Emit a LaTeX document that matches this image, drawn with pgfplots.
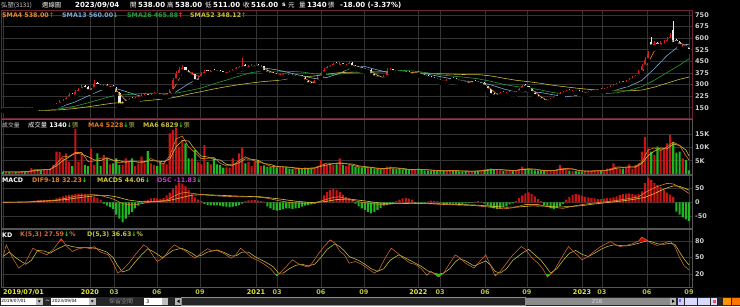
\documentclass[border=0pt]{standalone}
\usepackage{fontspec}
\setmainfont{DejaVu Sans}
\newfontfamily\cjk{Noto Sans CJK TC}
\usepackage{pgfplots}
\pgfplotsset{compat=1.18}
\usepackage{pgfplotstable}

\definecolor{gridc}{RGB}{52,52,52}
\definecolor{framec}{RGB}{85,85,85}
\definecolor{pricefr}{RGB}{110,35,55}
\definecolor{labc}{RGB}{205,205,205}
\definecolor{cup}{RGB}{215,30,30}
\definecolor{cdn}{RGB}{235,235,235}
\definecolor{vup}{RGB}{200,20,20}
\definecolor{vdn}{RGB}{30,185,30}
\definecolor{smaA}{RGB}{230,140,50}
\definecolor{smaB}{RGB}{120,170,210}
\definecolor{smaC}{RGB}{40,155,60}
\definecolor{smaD}{RGB}{200,190,50}
\definecolor{maor}{RGB}{230,120,30}
\definecolor{mayl}{RGB}{200,190,60}
\definecolor{difc}{RGB}{225,130,40}
\definecolor{macdsc}{RGB}{210,200,60}
\definecolor{oscc}{RGB}{200,60,200}
\definecolor{kc}{RGB}{215,105,50}
\definecolor{dc}{RGB}{200,195,60}
\definecolor{arrup}{RGB}{255,50,50}
\definecolor{arrdn}{RGB}{40,230,40}
\definecolor{yrc}{RGB}{230,230,70}
\definecolor{monc}{RGB}{190,190,70}
\definecolor{stripc}{RGB}{38,38,38}

\newcommand{\up}{{\color{arrup}↑}}
\newcommand{\dn}{{\color{arrdn}↓}}

\pgfplotsset{
 panel/.style={
  scale only axis, width=690.5pt, anchor=south west,
  xmin=-0.48, xmax=218.95,
  xtick={0,27.6,35.3,48.9,62.6,80.4,87.1,101,114.7,132,138.9,153.2,166.5,184,190.3,204.6,218},
  xticklabels={},
  xmajorgrids, ymajorgrids,
  major grid style={draw=gridc, line width=0.5pt},
  major tick length=0pt,
  axis line style={draw=framec, line width=0.7pt},
  yticklabel pos=right,
  yticklabel style={font=\fontsize{6.5}{7}\selectfont\bfseries, text=labc, anchor=west, inner sep=0pt, xshift=3pt},
 },
 upsel/.style={restrict expr to domain={\thisrow{c}-\thisrow{o}}{0.001:10000}},
 dnsel/.style={restrict expr to domain={\thisrow{c}-\thisrow{o}}{-10000:-0.001}},
 wick/.style={only marks, mark=none, error bars/.cd, y dir=plus, y explicit, error mark=none, error bar style={draw=#1, line width=0.6pt}},
 body/.style={only marks, mark=none, error bars/.cd, y dir=plus, y explicit, error mark=none, error bar style={draw=#1, line width=2.2pt}},
}

\pgfplotstableread{
x o h l c v osc
0 136 138 130 132 0.9 0
1 132 137 131 135 0.8 -1
2 136 138 132 134 0.7 0
3 133 139 132 136 0.8 1
4 137 138 131 133 0.7 0
5 132 137 131 135 0.8 -1
6 134 140 133 137 0.9 0
7 139 141 134 136 0.7 1
8 135 141 134 138 1.0 1
9 136 147 135 142 2.2 4
10 140 152 139 148 1.8 6
11 146 157 144 152 1.6 8
12 156 159 147 150 1.4 8
13 149 160 147 155 1.7 7
14 152 162 150 157 1.8 8
15 154 166 152 160 2.0 9
16 157 172 155 165 3.4 10
17 160 182 158 172 8.4 14
18 168 198 165 185 8.2 18
19 180 208 176 195 6.0 22
20 192 218 188 210 7.8 25
21 208 242 204 230 4.6 27
22 240 246 218 225 3.0 28
23 222 264 218 250 17.0 30
24 245 275 238 265 4.6 32
25 262 300 256 285 7.8 33
26 292 298 262 270 3.4 30
27 282 288 246 255 3.0 28
28 250 280 245 270 9.6 25
29 268 330 262 300 3.4 20
30 308 315 282 290 7.8 15
31 298 304 278 285 3.0 10
32 278 300 272 290 7.1 -5
33 298 302 272 280 5.9 -12
34 270 292 266 285 3.6 -18
35 290 294 266 275 4.0 -25
36 280 286 232 240 5.9 -45
37 245 252 150 165 3.4 -60
38 160 195 148 185 3.4 -73
39 180 205 175 195 5.9 -60
40 190 214 186 205 4.6 -45
41 212 218 194 200 5.9 -35
42 196 218 192 210 3.0 -22
43 204 224 200 215 4.0 -12
44 210 236 206 225 6.5 -4
45 218 240 214 230 4.0 6
46 236 240 212 220 8.6 10
47 218 244 214 235 4.0 14
48 228 250 224 240 3.4 15
49 244 248 224 230 3.0 14
50 236 240 218 225 4.6 12
51 218 236 214 228 4.0 15
52 222 242 218 235 3.6 25
53 232 270 228 260 15.3 35
54 258 345 254 330 16.5 48
55 325 390 318 370 17.4 62
56 362 410 355 395 10.3 72
57 385 428 378 405 12.8 68
58 410 416 370 380 11.5 58
59 390 396 355 365 5.9 45
60 350 382 345 370 5.9 30
61 365 370 305 320 9.0 18
62 315 356 310 345 4.6 10
63 340 380 335 370 3.6 4
64 360 392 355 378 10.9 -6
65 392 396 366 375 4.6 -9
66 368 395 362 385 3.6 -10
67 396 400 372 380 5.9 -11
68 392 396 370 378 3.6 -10
69 388 392 365 372 3.4 -12
70 384 388 360 368 2.4 -15
71 360 382 356 375 2.5 -16
72 366 390 362 380 2.4 -18
73 376 402 372 395 5.9 -16
74 388 412 384 405 4.0 -14
75 396 420 392 410 7.8 -10
76 402 470 398 420 9.9 -5
77 428 434 398 405 4.0 4
78 398 424 394 415 4.6 7
79 406 430 402 420 3.0 9
80 404 428 400 418 4.6 8
81 425 430 404 410 5.2 6
82 400 424 396 415 3.0 4
83 418 422 360 380 3.2 2
84 388 392 362 370 2.8 -15
85 380 385 358 365 2.6 -22
86 376 380 352 360 3.0 -28
87 370 374 348 355 2.5 -30
88 346 368 342 360 2.6 -28
89 350 374 346 365 2.8 -25
90 372 376 352 358 2.5 -22
91 366 370 345 352 2.0 -22
92 362 366 342 350 1.8 -24
93 342 364 338 355 2.0 -22
94 360 364 338 345 2.2 -20
95 354 358 332 340 2.0 -16
96 345 350 312 320 2.4 -12
97 325 330 282 300 2.2 -10
98 310 314 286 295 2.0 -8
99 296 328 292 320 2.5 -6
100 318 352 314 345 3.0 -2
101 344 382 340 375 5.3 5
102 370 404 366 395 4.0 25
103 390 418 386 410 3.6 38
104 402 428 398 420 3.8 45
105 412 440 408 430 3.4 49
106 440 445 418 425 3.6 45
107 414 442 410 430 5.9 38
108 436 440 412 420 3.4 28
109 410 432 406 425 3.0 20
110 420 452 416 440 3.4 14
111 440 444 404 410 3.2 8
112 420 425 398 405 2.8 -5
113 415 420 393 400 2.6 -15
114 410 414 388 395 2.5 -22
115 404 408 383 390 2.4 -28
116 382 402 378 395 2.4 -35
117 395 400 352 360 2.2 -40
118 365 370 338 345 2.0 -35
119 356 360 332 340 1.8 -28
120 350 354 326 335 1.8 -20
121 332 358 328 350 2.0 -12
122 348 405 344 390 2.8 -10
123 380 404 376 395 2.8 -8
124 398 402 372 380 2.0 -5
125 392 396 370 378 1.8 4
126 388 392 368 375 1.8 10
127 386 390 364 372 1.6 14
128 384 388 362 370 1.6 15
129 380 384 360 368 1.5 13
130 358 380 354 372 1.6 10
131 362 386 358 378 1.8 -5
132 384 388 358 365 2.0 -7
133 370 374 348 355 1.5 -6
134 362 366 340 348 1.4 -4
135 355 358 332 340 1.3 3
136 348 352 328 335 1.2 6
137 344 348 322 330 1.2 5
138 338 342 318 325 1.1 3
139 332 336 310 318 1.2 -3
140 328 332 306 315 1.1 -6
141 310 334 306 325 1.4 -8
142 320 344 316 335 1.5 -7
143 344 348 324 330 1.2 -5
144 336 340 314 322 1.1 -6
145 328 332 308 315 1.0 -8
146 324 328 304 312 1.0 -6
147 318 322 296 305 1.1 -4
148 296 316 292 308 1.0 -3
149 300 320 296 312 1.1 -2
150 322 326 302 310 1.2 2
151 318 322 296 305 1.3 4
152 296 316 292 308 1.4 2
153 310 314 278 285 1.6 -5
154 288 292 255 262 1.8 -12
155 265 270 220 230 2.0 -18
156 238 242 214 222 1.6 -22
157 220 244 216 235 1.5 -25
158 228 250 224 242 1.4 -22
159 252 256 234 240 1.2 -18
160 232 254 228 245 1.3 -14
161 236 256 232 248 1.4 -8
162 256 260 236 243 1.2 -4
163 238 258 234 250 1.5 5
164 248 278 244 270 1.8 15
165 266 298 262 290 2.8 25
166 296 302 274 280 1.8 33
167 288 292 262 270 1.6 36
168 272 276 238 245 1.5 30
169 248 252 218 225 1.4 22
170 228 232 202 210 1.3 12
171 214 218 190 198 1.2 4
172 202 206 182 188 1.1 -10
173 184 202 180 195 1.2 -18
174 192 212 188 205 1.3 -22
175 200 222 196 215 1.4 -25
176 212 238 208 230 1.6 -20
177 226 250 222 240 3.4 -14
178 234 256 230 248 1.8 -6
179 242 262 238 255 1.6 10
180 264 268 246 252 1.3 20
181 244 262 240 255 1.2 27
182 262 266 244 250 1.1 30
183 258 262 238 245 1.0 28
184 252 256 234 240 1.0 24
185 232 250 228 242 1.1 20
186 238 256 234 250 1.2 18
187 244 262 240 255 1.2 16
188 248 266 244 258 1.3 14
189 250 270 246 262 1.3 12
190 272 276 254 260 1.2 12
191 256 276 252 268 1.4 13
192 262 284 258 275 2.0 15
193 270 294 266 285 2.2 16
194 278 302 274 292 4.0 18
195 286 310 282 300 2.4 22
196 294 320 290 310 2.0 26
197 320 324 298 305 2.0 30
198 302 326 298 318 2.3 32
199 314 340 310 330 3.6 33
200 326 352 322 345 2.0 30
201 340 364 336 355 3.4 28
202 352 392 348 380 4.0 30
203 378 432 372 420 8.4 40
204 415 475 410 460 14.0 70
205 455 515 450 500 9.6 90
206 575 607 520 545 8.4 82
207 540 578 532 560 7.1 70
208 570 576 538 550 10.3 63
209 545 580 540 565 9.6 55
210 552 588 548 570 9.6 45
211 565 605 560 590 11.5 35
212 585 630 580 605 14.7 28
213 650 712 550 560 12.0 20
214 588 594 556 570 8.0 -34
215 575 582 538 550 8.4 -45
216 530 560 525 545 5.9 -55
217 556 560 528 538 5.3 -62
218 538 538 511 516 1.34 -68
}\candles

\begin{document}
\begin{tikzpicture}[x=1pt,y=1pt]
\fill[black] (0pt,0pt) rectangle (740pt,306pt);
\useasboundingbox (0pt,0pt) rectangle (740pt,306pt);

% ---------------- price panel
\begin{axis}[panel, at={(1.5pt,188pt)}, height=108pt, ymin=83.5, ymax=781,
  ytick={150,225,...,750}, yticklabels={150,225,300,375,450,525,600,675,750},
  axis line style={draw=pricefr, line width=0.8pt}]
 \addplot[upsel, wick=cup]
   table[x=x, y=l, y error plus expr={\thisrow{h}-\thisrow{l}}] {\candles};
 \addplot[dnsel, wick=cdn]
   table[x=x, y=l, y error plus expr={\thisrow{h}-\thisrow{l}}] {\candles};
 \addplot[upsel, body=cup]
   table[x=x, y=o, y error plus expr={\thisrow{c}-\thisrow{o}}] {\candles};
 \addplot[dnsel, body=cdn]
   table[x=x, y=c, y error plus expr={\thisrow{o}-\thisrow{c}}] {\candles};
 \addplot[smaD, line width=0.6pt] coordinates {(0,130.3)(3,130.3)(7,130.7)(11,131.8)(15,133.8)(19,137.6)(23,145.2)(27,155.9)(31,167.9)(35,179.6)(39,184.7)(43,190.7)(47,198.2)(51,205.9)(55,218.6)(59,237.9)(63,253.8)(67,271)(71,285.9)(75,298.9)(79,310.1)(83,319.3)(87,325.5)(91,338)(95,348.8)(99,355.1)(103,366.6)(107,376.4)(111,379.3)(115,382.9)(119,381.4)(123,381)(127,379.3)(131,376)(135,371.8)(139,369.1)(143,366.6)(147,364)(151,364)(155,355.5)(159,340.8)(163,327.2)(167,317.9)(171,307.1)(175,294.3)(179,284.1)(183,274.7)(187,266.7)(191,261.7)(195,258.7)(199,258.9)(203,264)(207,282.8)(211,308.5)(215,333.5)(218,348.12)};
 \addplot[smaC, line width=0.6pt] coordinates {(0,130.5)(3,130.6)(7,131.4)(11,133.7)(15,137.6)(19,145.2)(23,160.4)(27,181.5)(31,204.8)(35,226.7)(39,233.7)(43,239.9)(47,243.5)(51,240.8)(55,244.1)(59,259.7)(63,276.9)(67,304.3)(71,328.2)(75,354.1)(79,377.2)(83,386.9)(87,386)(91,385)(95,380.6)(99,368.9)(103,365)(107,367.4)(111,373.5)(115,379.2)(119,380.2)(123,386.2)(127,391)(131,386.2)(135,374.9)(139,362)(143,353.9)(147,346.2)(151,336.5)(155,320.7)(159,301.2)(163,286.8)(167,279.3)(171,263.9)(175,246.9)(179,239.7)(183,239.3)(187,240.3)(191,240.3)(195,246.3)(199,262.6)(203,286.2)(207,327.6)(211,376.8)(215,425.5)(218,465.88)};
 \addplot[smaB, line width=0.6pt] coordinates {(0,130.5)(3,131.3)(7,133)(11,138)(15,145.2)(19,159.8)(23,187.8)(27,225.7)(31,261.3)(35,279.2)(39,254.8)(43,228.7)(47,210.3)(51,222)(55,252.5)(59,305.3)(63,345.3)(67,372.2)(71,367.8)(75,383.3)(79,395.2)(83,406.2)(87,394.5)(91,375.8)(95,356.3)(99,338.5)(103,345.8)(107,372)(111,410.3)(115,415.8)(119,393.8)(123,375)(127,367.8)(131,371.8)(135,366.7)(139,350.3)(143,335)(147,322.2)(151,316.2)(155,297.8)(159,271.7)(163,250.8)(167,253)(171,247.8)(175,232.7)(179,221.2)(183,231.5)(187,246.8)(191,253.2)(195,265.7)(199,288.7)(203,326.3)(207,402.3)(211,486.7)(215,552)(218,560)};
 \addplot[smaA, line width=0.6pt] coordinates {(0,130.5)(1,132)(3,134)(5,134.5)(7,135)(9,138.25)(11,145)(13,151.25)(15,155.5)(17,163.5)(19,179)(21,205)(23,229)(25,256.25)(27,269)(29,273.75)(31,286)(33,286.25)(35,282.5)(37,241.25)(39,196)(41,196.25)(43,207.5)(45,220)(47,227.5)(49,231.25)(51,231)(53,237)(55,299)(57,375)(59,386)(61,358.75)(63,351)(65,367)(67,379.5)(69,378.75)(71,373)(73,379.5)(75,397.5)(77,410)(79,415)(81,415.75)(83,406)(85,382.5)(87,362.5)(89,360)(91,359)(93,353.75)(95,347.5)(97,326.25)(99,309)(101,333.75)(103,381)(105,413.75)(107,426)(109,425)(111,424)(113,413.75)(115,397.5)(117,385)(119,360)(121,342.5)(123,367.5)(125,385.75)(127,376)(129,371.25)(131,372)(133,367.5)(135,352)(137,338.25)(139,327)(141,320.75)(143,326)(145,325.5)(147,313.5)(149,309.25)(151,309)(153,302)(155,271)(157,237.25)(159,235)(161,243.75)(163,246.5)(165,263.25)(167,277.5)(169,255)(171,219.5)(173,197.75)(175,201)(177,222.5)(179,243)(181,252.5)(183,250.5)(185,244.25)(187,247)(189,256.25)(191,262)(193,272)(195,288)(197,301.75)(199,316)(201,337)(203,375)(205,440)(207,516)(209,555)(211,569)(213,581.25)(215,571)(217,550.75)(218,538)};
\end{axis}

% ---------------- volume panel
\begin{axis}[panel, at={(1.5pt,132pt)}, height=55pt, ymin=0, ymax=20.68,
  ytick={5,10,15}, yticklabels={5K,10K,15K}]
 \addplot[upsel, ybar, bar width=2.1pt, bar shift=0pt, fill=vup, draw=none] table[x=x, y=v] {\candles};
 \addplot[dnsel, ybar, bar width=2.1pt, bar shift=0pt, fill=vdn, draw=none] table[x=x, y=v] {\candles};
 \addplot[mayl, line width=0.6pt] coordinates {(0,0.8)(5,0.78)(9,1.05)(13,1.6)(15,1.7)(17,3.1)(19,5.0)(21,6.4)(23,7.8)(25,7.5)(27,6.5)(29,5.3)(31,5.03)(33,6.1)(35,5.2)(37,5.0)(39,4.4)(41,4.85)(43,4.5)(45,4.7)(47,5.0)(49,4.9)(51,4.6)(53,5.65)(55,10.2)(57,12.65)(59,12.4)(61,9.2)(63,6.75)(65,6.4)(67,5.5)(69,5.3)(71,3.6)(73,3.4)(75,4.2)(77,5.7)(79,5.55)(81,5.2)(83,3.9)(85,3.6)(87,2.85)(89,2.7)(91,2.57)(93,2.3)(95,2.1)(97,2.1)(99,2.2)(101,2.9)(103,3.4)(105,3.85)(107,4.05)(109,3.85)(111,3.75)(113,3.07)(115,2.8)(117,2.5)(119,2.2)(121,2.03)(123,2.2)(125,2.2)(127,2.13)(129,1.72)(131,1.65)(133,1.67)(135,1.6)(137,1.43)(139,1.23)(141,1.2)(143,1.25)(145,1.2)(147,1.15)(149,1.05)(151,1.1)(153,1.27)(155,1.55)(157,1.65)(159,1.58)(161,1.4)(163,1.33)(165,1.67)(167,1.78)(169,1.82)(171,1.47)(173,1.28)(175,1.25)(177,1.67)(179,1.85)(181,1.82)(183,1.33)(185,1.12)(187,1.1)(189,1.18)(191,1.27)(193,1.57)(195,2.2)(197,2.43)(199,2.72)(201,2.55)(203,3.95)(205,6.9)(207,8.6)(209,9.8)(211,9.4)(213,11.3)(215,10.7)(217,9.05)(218,6.83)};
 \addplot[maor, line width=0.6pt] coordinates {(0,0.8)(3,0.8)(5,0.75)(7,0.78)(9,1.2)(11,1.65)(13,1.63)(15,1.73)(17,3.9)(19,6.5)(21,6.65)(23,8.1)(25,8.1)(27,4.7)(29,4.85)(31,5.95)(33,5.95)(35,5.15)(37,4.2)(39,4.65)(41,4.95)(43,4.4)(45,4.4)(47,5.8)(49,4.75)(51,3.75)(53,6.9)(55,13.2)(57,14.25)(59,10.1)(61,8.1)(63,5.8)(65,5.9)(67,6.25)(69,4.1)(71,3.0)(73,3.3)(75,5.0)(77,6.4)(79,5.4)(81,4.35)(83,4.0)(85,2.9)(87,2.7)(89,2.7)(91,2.5)(93,2.1)(95,2.0)(97,2.2)(99,2.3)(101,3.2)(103,4.1)(105,3.95)(107,4.2)(109,4.0)(111,3.25)(113,2.75)(115,2.5)(117,2.35)(119,2.1)(121,1.9)(123,2.35)(125,2.35)(127,1.8)(129,1.6)(131,1.6)(133,1.7)(135,1.55)(137,1.3)(139,1.2)(141,1.2)(143,1.3)(145,1.2)(147,1.05)(149,1.05)(151,1.15)(153,1.4)(155,1.7)(157,1.7)(159,1.55)(161,1.35)(163,1.35)(165,1.8)(167,2.0)(169,1.8)(171,1.35)(173,1.2)(175,1.25)(177,1.9)(179,2.1)(181,1.95)(183,1.3)(185,1.05)(187,1.12)(189,1.25)(191,1.3)(193,1.7)(195,2.65)(197,2.6)(199,2.5)(201,2.8)(203,4.45)(205,9.0)(207,9.8)(209,8.85)(211,10.25)(213,11.95)(215,10.8)(217,6.9)(218,5.23)};
\end{axis}

% ---------------- MACD panel
\begin{axis}[panel, at={(1.5pt,78pt)}, height=53pt, ymin=-93.8, ymax=99.6,
  ytick={-50,0,50}, yticklabels={-50,0,50}]
 \addplot[ybar, bar width=2.1pt, bar shift=0pt, fill=vup, draw=none, restrict y to domain=0.001:1000] table[x=x, y=osc] {\candles};
 \addplot[ybar, bar width=2.1pt, bar shift=0pt, fill=vdn, draw=none, restrict y to domain=-1000:-0.001] table[x=x, y=osc] {\candles};
 \addplot[macdsc, line width=0.6pt] coordinates {(0,0)(10,2)(15,5)(20,10)(25,18)(30,25)(33,25)(36,20)(40,8)(44,2)(48,2)(52,5)(56,15)(60,26)(64,28)(70,25)(76,22)(82,20)(88,12)(93,4)(98,-1)(102,2)(106,10)(110,12)(115,5)(120,-3)(125,-5)(130,-4)(135,-4)(140,-6)(145,-8)(150,-10)(155,-14)(160,-18)(164,-17)(168,-13)(172,-14)(176,-17)(180,-16)(184,-12)(188,-6)(192,-1)(196,4)(200,10)(204,18)(207,32)(210,48)(213,60)(215,58)(217,50)(218,44.06)};
 \addplot[difc, line width=0.6pt] coordinates {(0,0)(8,1)(12,5)(17,8)(20,15)(24,24)(28,28)(30,27)(32,22)(35,12)(38,-5)(41,-10)(44,-5)(47,2)(50,5)(52,8)(54,20)(56,32)(58,36)(60,33)(63,28)(66,25)(70,22)(75,20)(80,20)(84,15)(88,5)(92,-2)(96,-4)(99,-2)(102,8)(105,18)(107,20)(110,10)(114,0)(118,-6)(121,-8)(125,-4)(130,-2)(135,-5)(140,-8)(145,-10)(150,-12)(155,-18)(159,-24)(162,-20)(166,-8)(170,-8)(174,-18)(178,-22)(182,-12)(186,-5)(190,0)(194,5)(198,12)(202,20)(205,42)(208,58)(211,69)(213,67)(215,55)(217,40)(218,32.23)};
\end{axis}

% ---------------- KD panel
\begin{axis}[panel, at={(1.5pt,19pt)}, height=58pt, ymin=-3.1, ymax=101.7,
  ytick={20,50,80}, yticklabels={20,50,80},
  xticklabels={{\makebox[0pt][l]{\color{yrc}2019/07/01}},{\color{yrc}2020},03,06,09,{\color{yrc}2021},03,06,09,{\color{yrc}2022},03,06,09,{\color{yrc}2023},03,06,09},
  xticklabel style={font=\fontsize{6.5}{7}\selectfont\bfseries, text=monc, anchor=north, inner sep=0pt, yshift=-2pt}]
 \addplot[fill=red!85!black, draw=none] coordinates {(17.97,80)(18.5,84)(19,80)} -- cycle;
 \addplot[fill=red!85!black, draw=none] coordinates {(103.67,80)(104,82)(104.5,80)} -- cycle;
 \addplot[fill=red!85!black, draw=none] coordinates {(202,80)(203,87)(204.5,82)(205,80)} -- cycle;
 \addplot[fill=green!80!black, draw=none] coordinates {(86.54,20)(87,17)(87.55,20)} -- cycle;
 \addplot[fill=green!80!black, draw=none] coordinates {(134.42,20)(134.7,18)(135.07,20)} -- cycle;
 \addplot[fill=green!80!black, draw=none] coordinates {(137.2,20)(138.4,15)(139.54,20)} -- cycle;
 \addplot[fill=green!80!black, draw=none] coordinates {(156.17,20)(156.4,17)(157,20)} -- cycle;
 \addplot[fill=green!80!black, draw=none] coordinates {(172.5,20)(173,15)(174,20)} -- cycle;
 \addplot[dc, line width=0.55pt] coordinates {(0,52)(2,60)(4,50)(7.2,38)(9,45)(11,63)(13,62)(15,58)(17,65)(20,73)(22,70)(24,68)(26,68)(28,68)(30,66)(33,60)(35,50)(36.5,35)(38,24)(40,28)(42,42)(44,55)(46,66)(48,60)(50.7,50)(52,55)(54,63)(56.7,67)(58,64)(60,58)(61.5,52)(63,54)(65,60)(68,64)(70,60)(72.5,53)(74,53)(76,60)(78,60)(80,52)(82,46)(84,40)(86,33)(87.5,22)(89,22)(91,30)(93,36)(95,38)(97,35)(99,38)(101,50)(103,65)(105.5,75)(107,70)(108.5,62)(110,52)(113,45)(115,38)(117,30)(119,25)(121,30)(123,45)(125.7,55)(127,52)(129,46)(131,40)(133,34)(135,26)(137,22)(138.4,20)(140,22)(142,30)(143.7,42)(145,48)(147,44)(149.7,35)(151,38)(153.4,44)(155,36)(156.4,25)(158,22)(160,30)(162,45)(165,58)(167,65)(169,55)(171,45)(173,30)(174,22)(176,30)(178,45)(180,58)(182,63)(184,56)(186,52)(188,58)(190,65)(192,70)(194,73)(196,72)(198,71)(200,73)(202,76)(204.4,80)(206,79)(208,75)(210,74)(212,76)(213.5,74)(215,60)(216.5,47)(218,36.63)};
 \addplot[kc, line width=0.55pt] coordinates {(0,50)(1,73)(3,50)(5,31)(7,40)(9.5,67)(11,62)(14,55)(16,65)(18.5,84)(20,72)(22,61)(24,66)(26,68)(28,66)(29,70)(31,60)(33.5,55)(35,40)(36.5,22)(38,28)(40,40)(42,55)(44.7,73)(46,68)(47.5,55)(49,43)(51,50)(53,65)(54.5,73)(56,68)(58,62)(59.5,55)(61,49)(63,58)(65,66)(66.5,62)(68,63)(70,58)(72.5,49)(74,55)(75.5,67)(77,60)(79,50)(81,45)(83,38)(85,30)(87,17)(89,28)(92,46)(93.5,40)(95,36)(97,33)(98,38)(100,55)(102,70)(104,82)(105.5,76)(107,62)(108.5,55)(110,40)(112,43)(114,38)(116,30)(118,22)(119.5,28)(121.5,50)(123.4,67)(125,60)(127,50)(129.4,40)(131,38)(133,30)(134.7,18)(136,25)(138.4,15)(140,22)(142,40)(143.7,55)(145,50)(147,40)(149.7,31)(151,40)(153.4,55)(155,35)(156.4,17)(158,25)(160,40)(162,55)(164.7,70)(166,65)(168,50)(170,40)(171.5,30)(173,15)(175,25)(177,45)(179.7,70)(181,62)(182.5,55)(184,46)(186,52)(188,62)(190,70)(193,79)(194.5,74)(196,70)(198,72)(200,75)(202,80)(203,87)(204.5,82)(206,76)(208,72)(210,76)(212,80)(213.5,70)(215,50)(216.5,35)(218,27.59)};
\end{axis}

% ---------------- header texts
\begin{scope}[every node/.style={anchor=west, inner sep=0pt}]
 \node[text=labc, font=\cjk\fontsize{6.3}{7}\selectfont] at (1pt,301pt) {弘塑(3131)};
 \node[text=white, font=\cjk\fontsize{6.3}{7}\selectfont] at (42pt,301pt) {週線圖};
 \node[text=white, font=\fontsize{7}{8}\selectfont\bfseries] at (75pt,301pt) {2023/09/04};
 \node[text=white, font=\cjk\fontsize{6.5}{7}\selectfont] at (130pt,301pt) {開};
 \node[text=white, font=\fontsize{7}{8}\selectfont\bfseries] at (138pt,301pt) {538.00};
 \node[text=white, font=\cjk\fontsize{6.5}{7}\selectfont] at (167pt,301pt) {高};
 \node[text=white, font=\fontsize{7}{8}\selectfont\bfseries] at (175pt,301pt) {538.00};
 \node[text=white, font=\cjk\fontsize{6.5}{7}\selectfont] at (205pt,301pt) {低};
 \node[text=white, font=\fontsize{7}{8}\selectfont\bfseries] at (213pt,301pt) {511.00};
 \node[text=white, font=\cjk\fontsize{6.5}{7}\selectfont] at (243pt,301pt) {收};
 \node[text=white, font=\fontsize{7}{8}\selectfont\bfseries] at (251pt,301pt) {516.00};
 \node[text=white, font=\fontsize{6}{7}\selectfont\bfseries] at (282pt,301pt) {s};
 \node[text=white, font=\cjk\fontsize{6.5}{7}\selectfont] at (288pt,301pt) {元};
 \node[text=white, font=\cjk\fontsize{6.5}{7}\selectfont] at (299pt,301pt) {量};
 \node[text=white, font=\fontsize{7}{8}\selectfont\bfseries] at (307pt,301pt) {1340};
 \node[text=white, font=\cjk\fontsize{6.5}{7}\selectfont] at (328pt,301pt) {張};
 \node[text=white, font=\fontsize{7}{8}\selectfont\bfseries] at (340pt,301pt) {-18.00 (-3.37\%)};

 \node[font=\fontsize{6.3}{7}\selectfont\bfseries] at (2pt,291pt) {\color{smaA}SMA4 538.00\up};
 \node[font=\fontsize{6.3}{7}\selectfont\bfseries] at (62pt,291pt) {\color{smaB}SMA13 560.00\dn};
 \node[font=\fontsize{6.3}{7}\selectfont\bfseries] at (127pt,291pt) {\color{smaC}SMA26 465.88\up};
 \node[font=\fontsize{6.3}{7}\selectfont\bfseries] at (190pt,291pt) {\color{smaD}SMA52 348.12\up};

 \node[text=labc, font=\cjk\fontsize{5.8}{7}\selectfont] at (2pt,181pt) {成交量};
 \node[text=white, font=\fontsize{6.3}{7}\selectfont\bfseries] at (28pt,181pt) {{\cjk\mdseries 成交量} 1340\dn{\cjk\mdseries\color{monc}張}};
 \node[text=maor, font=\fontsize{6.3}{7}\selectfont\bfseries] at (88pt,181pt) {MA4 5228\dn{\cjk\mdseries\color{monc}張}};
 \node[text=mayl, font=\fontsize{6.3}{7}\selectfont\bfseries] at (143pt,181pt) {MA6 6829\dn{\cjk\mdseries\color{monc}張}};

 \node[text=white, font=\fontsize{6.3}{7}\selectfont\bfseries] at (2pt,126pt) {MACD};
 \node[text=difc, font=\fontsize{6.3}{7}\selectfont\bfseries] at (32pt,126pt) {DIF9-18 32.23\dn};
 \node[text=macdsc, font=\fontsize{6.3}{7}\selectfont\bfseries] at (97pt,126pt) {MACDS 44.06\dn};
 \node[text=oscc, font=\fontsize{6.3}{7}\selectfont\bfseries] at (157pt,126pt) {OSC -11.83\dn};

 \node[text=white, font=\fontsize{6.3}{7}\selectfont\bfseries] at (2pt,71pt) {KD};
 \node[text=kc, font=\fontsize{6.3}{7}\selectfont\bfseries] at (20pt,71pt) {K(5,3) 27.59\dn\%};
 \node[text=dc, font=\fontsize{6.3}{7}\selectfont\bfseries] at (87pt,71pt) {D(5,3) 36.63\dn\%};
\end{scope}

% ---------------- bottom control strip
\fill[stripc] (0pt,0pt) rectangle (740pt,9pt);
\fill[white] (0.5pt,1pt) rectangle (43pt,8.5pt);
\fill[black!25] (36pt,1.5pt) rectangle (42.5pt,8pt);
\fill[black] (37.8pt,5.6pt) -- (40.7pt,5.6pt) -- (39.25pt,3.6pt) -- cycle;
\node[anchor=west, inner sep=0pt, font=\fontsize{4.3}{5}\selectfont, text=black] at (1.2pt,4.75pt) {2019/07/01};
\node[anchor=west, inner sep=0pt, font=\fontsize{6}{6}\selectfont, text=white] at (45pt,4.75pt) {\textasciitilde};
\fill[white] (51pt,1pt) rectangle (96pt,8.5pt);
\fill[black!25] (89pt,1.5pt) rectangle (95.5pt,8pt);
\fill[black] (90.8pt,5.6pt) -- (93.7pt,5.6pt) -- (92.25pt,3.6pt) -- cycle;
\node[anchor=west, inner sep=0pt, font=\fontsize{4.3}{5}\selectfont, text=black] at (52pt,4.75pt) {2023/09/04};
\node[anchor=west, inner sep=0pt, font=\cjk\fontsize{6}{6}\selectfont, text=black!45] at (109pt,4.75pt) {保留空間};
\fill[white] (144pt,1pt) rectangle (168pt,8.5pt);
\fill[black!25] (162pt,1.5pt) rectangle (167.5pt,8pt);
\node[anchor=west, inner sep=0pt, font=\fontsize{5}{5}\selectfont, text=black] at (146pt,4.75pt) {3};
\fill[black!30] (175pt,1pt) rectangle (181.5pt,8.5pt);
\fill[black] (179.5pt,6.5pt) -- (179.5pt,3pt) -- (177pt,4.75pt) -- cycle;
\draw[black!45, line width=0.5pt] (181.5pt,1pt) rectangle (525pt,8.5pt);
\fill[black!45] (525pt,1pt) rectangle (670pt,8.5pt);
\node[inner sep=0pt, font=\fontsize{5.5}{6}\selectfont, text=black!15] at (597pt,4.75pt) {216};
\fill[black!30] (670pt,1pt) rectangle (676pt,8.5pt);
\fill[black] (672pt,6.5pt) -- (672pt,3pt) -- (674.5pt,4.75pt) -- cycle;
\fill[white!80!blue] (678pt,1.5pt) rectangle (684pt,8pt);
\fill[blue!60] (679pt,4pt) rectangle (681pt,7pt);
\fill[white!85!blue] (685pt,1.5pt) rectangle (697pt,8pt);
\fill[white!85!blue] (698pt,1.5pt) rectangle (710pt,8pt);
\fill[white!85!blue] (711pt,1.5pt) rectangle (717pt,8pt);
\fill[red!70] (712.5pt,3pt) rectangle (715.5pt,6.5pt);
\fill[orange!85!yellow] (723pt,1pt) rectangle (731pt,8.5pt);
\fill[orange!90!red] (732pt,1pt) rectangle (740pt,8.5pt);
\end{tikzpicture}
\end{document}
